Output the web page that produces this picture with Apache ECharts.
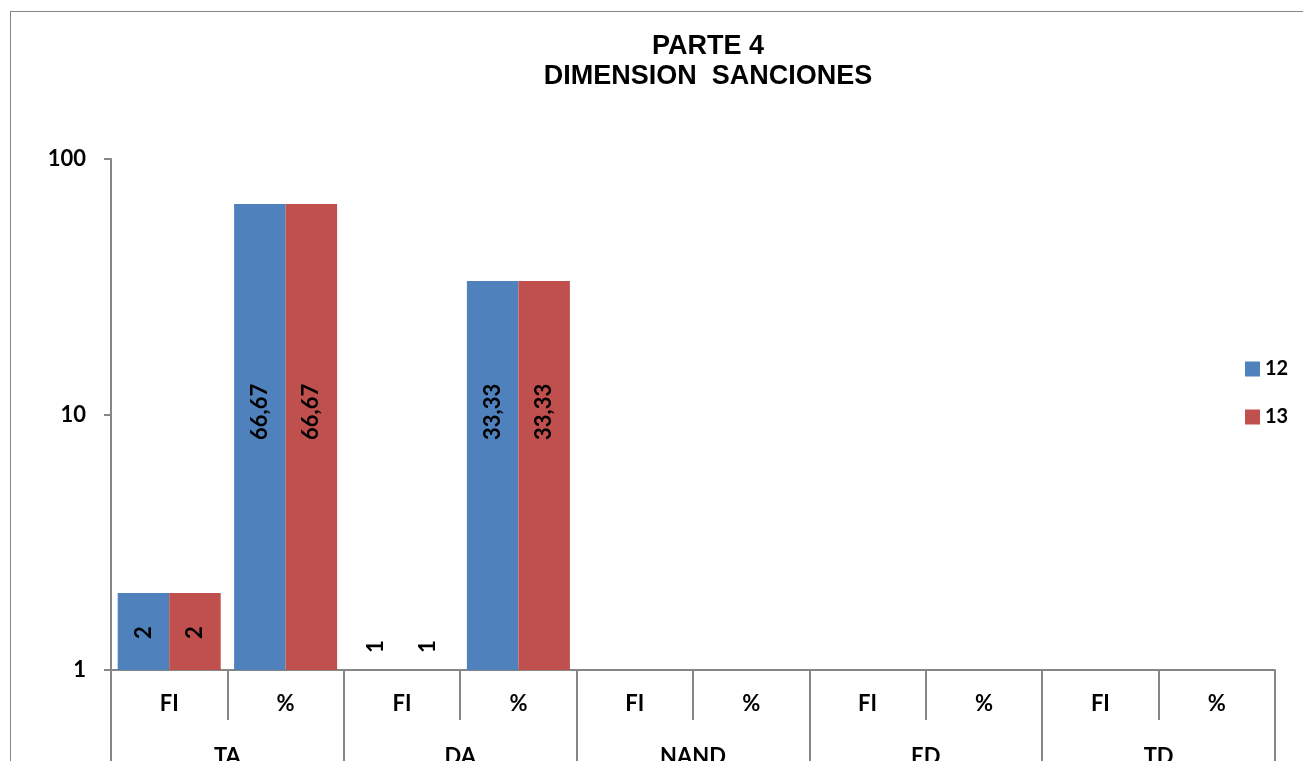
<!DOCTYPE html>
<html>
<head>
<meta charset="utf-8">
<script src="https://cdn.jsdelivr.net/npm/echarts@6/dist/echarts.min.js"></script>
<style>
html,body{margin:0;padding:0;background:#fff;}
#frame{position:absolute;left:10px;top:11px;width:1400px;height:900px;border-left:1.5px solid #868686;border-top:1.5px solid #868686;}
#chart{position:absolute;left:0;top:0;width:1303px;height:761px;}
</style>
</head>
<body>
<div id="frame"></div>
<div id="chart"></div>
<script>
const categories = ['FI', '%', 'FI', '%', 'FI', '%', 'FI', '%', 'FI', '%'];
const groups = ['TA', 'DA', 'NAND', 'ED', 'TD'];
const series12 = [2, 66.67, 1, 33.33, null, null, null, null, null, null];
const series13 = [2, 66.67, 1, 33.33, null, null, null, null, null, null];
const yTicks = [1, 10, 100];

const FONT = 'Lato, "Open Sans", sans-serif';
function labelDistance(cat, v) {
  if (cat === '%') return 230;
  return v > 1 ? 31 : 17;
}
function buildData(vals) {
  return vals.map((v, i) => v == null ? '-' : ({
    value: v,
    label: { distance: labelDistance(categories[i], v) }
  }));
}
const chart = echarts.init(document.getElementById('chart'), null, {renderer: 'canvas'});
const axisGray = '#868686';
const labelStyle = {
  show: true, rotate: 90, position: 'insideBottom', align: 'left', verticalAlign: 'middle',
  color: '#000', fontWeight: 'bold', fontSize: 22, fontFamily: FONT,
  formatter: p => String(p.value).replace('.', ',')
};
chart.setOption({
  animation: false,
  title: {
    text: 'PARTE 4\nDIMENSION  SANCIONES',
    left: 703, top: 27, textAlign: 'center',
    textStyle: {fontFamily: '"Liberation Sans", Arial, sans-serif', fontWeight: 'bold', fontSize: 27, lineHeight: 30, color: '#000'}
  },
  legend: {
    orient: 'vertical', left: 1240, top: 354,
    icon: 'rect',
    itemWidth: 15, itemHeight: 15, itemGap: 28,
    textStyle: {fontFamily: FONT, fontWeight: 'bold', fontSize: 20, color: '#000', lineHeight: 20},
    data: ['12', '13']
  },
  grid: {left: 111, right: 28, top: 159, bottom: 91, containLabel: false, outerBoundsMode: 'none'},
  xAxis: [
    {
      type: 'category', data: categories, position: 'bottom',
      axisLine: {lineStyle: {color: axisGray, width: 2}},
      axisTick: {show: true, interval: 0, length: 50, lineStyle: {color: axisGray, width: 2}},
      axisLabel: {interval: 0, margin: 23, color: '#000', fontWeight: 'bold', fontSize: 22, fontFamily: FONT}
    },
    {
      type: 'category', data: groups, position: 'bottom',
      axisLine: {show: false},
      axisTick: {show: true, interval: 0, length: 110, lineStyle: {color: axisGray, width: 2}},
      axisLabel: {interval: 0, margin: 76, color: '#000', fontWeight: 'bold', fontSize: 22, fontFamily: FONT}
    }
  ],
  yAxis: {
    type: 'log', logBase: 10, min: yTicks[0], max: yTicks[yTicks.length - 1],
    axisLine: {show: true, lineStyle: {color: axisGray, width: 2}},
    axisTick: {show: true, length: 7, lineStyle: {color: axisGray, width: 2}},
    splitLine: {show: false},
    minorTick: {show: false},
    axisLabel: {margin: 25, color: '#000', fontWeight: 'bold', fontSize: 22, fontFamily: FONT}
  },
  series: [
    {name: '12', type: 'bar', xAxisIndex: 0, data: buildData(series12), barGap: '0%', barCategoryGap: '11.5%',
     itemStyle: {color: '#4F81BD'}, label: labelStyle},
    {name: '13', type: 'bar', xAxisIndex: 0, data: buildData(series13), barGap: '0%', barCategoryGap: '11.5%',
     itemStyle: {color: '#C0504D'}, label: labelStyle}
  ]
});
</script>
</body>
</html>
